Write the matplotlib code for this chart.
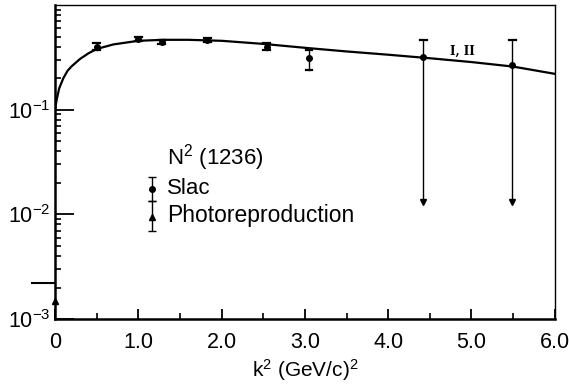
"""Form factor N2(1236) vs k^2, log scale, with Slac and photoproduction data."""

import numpy as np
import matplotlib
matplotlib.use("Agg")
import matplotlib.pyplot as plt
from matplotlib.ticker import FixedLocator, NullFormatter, LogLocator

plt.rcParams["font.family"] = ["Liberation Sans", "DejaVu Sans"]
plt.rcParams["mathtext.fontset"] = "custom"
plt.rcParams["mathtext.rm"] = "Liberation Sans"
plt.rcParams["mathtext.it"] = "Liberation Sans:italic"

# theory curve
curve_k2 = [0, 0.02, 0.05, 0.1, 0.15, 0.2, 0.3, 0.4, 0.5, 0.7, 1.0, 1.3,
            1.6, 2.0, 2.5, 3.0, 3.5, 4.0, 4.5, 5.0, 5.5, 6.0]
curve_val = [0.10, 0.125, 0.16, 0.20, 0.235, 0.26, 0.305, 0.345, 0.38, 0.42,
             0.455, 0.465, 0.465, 0.455, 0.425, 0.39, 0.36, 0.335, 0.31,
             0.285, 0.258, 0.22]

# Slac points
slac_k2 = [0.5, 1.0, 1.28, 1.83, 2.54, 3.05, 4.42, 5.49]
slac_val = [0.40, 0.47, 0.44, 0.46, 0.40, 0.31, 0.32, 0.27]
slac_lo = [0.37, 0.45, 0.42, 0.44, 0.37, 0.24, 0.013, 0.013]
slac_hi = [0.43, 0.49, 0.46, 0.48, 0.43, 0.37, 0.46, 0.46]
upper_limit = [False, False, False, False, False, False, True, True]

# photoproduction point at k^2 = 0
photo_k2 = [0.0]
photo_val = [0.0015]
photo_ref = 0.0022

xticks = [0, 1, 2, 3, 4, 5, 6]
xtick_labels = ["0", "1.0", "2.0", "3.0", "4.0", "5.0", "6.0"]

fig = plt.figure(figsize=(5.69, 3.85), dpi=100)
ax = fig.add_axes([0.0967, 0.1714, 0.8783, 0.8156])
ax.set_yscale("log")
ax.set_xlim(0, 6.0)
ax.set_ylim(1e-3, 1.0)

ax.plot(curve_k2, curve_val, color="black", lw=1.6, zorder=3)

for x, y, lo, hi, lim in zip(slac_k2, slac_val, slac_lo, slac_hi, upper_limit):
    ax.plot([x, x], [lo, hi], color="black", lw=1.0)
    ax.plot([x - 0.04, x + 0.04], [hi, hi], color="black", lw=1.6)
    if lim:
        ax.plot([x], [lo], marker="v", color="black", ms=5)
    else:
        ax.plot([x - 0.04, x + 0.04], [lo, lo], color="black", lw=1.6)
    ax.plot([x], [y], marker="o", color="black", ms=4)

ax.plot(photo_k2, photo_val, marker="^", color="black", ms=4, clip_on=False)
ax.plot([-0.28, 0.0], [photo_ref, photo_ref], color="black", lw=1.5,
        clip_on=False)

ax.text(4.89, 0.36, "I, II", family="DejaVu Serif", fontsize=8.5,
        fontweight="bold", ha="center", va="center")

# legend drawn by hand
ax.text(1.35, 0.035, "N$^2$ (1236)", fontsize=16, va="center")
ax.errorbar([1.16], [0.0175], yerr=[[0.004], [0.005]], fmt="o", color="black",
            ms=4, capsize=3, lw=1.0)
ax.text(1.35, 0.0175, "Slac", fontsize=16, va="center")
ax.errorbar([1.16], [0.0095], yerr=[[0.0025], [0.004]], fmt="^", color="black",
            ms=4, capsize=3, lw=1.0)
ax.text(1.35, 0.0098, "Photoreproduction", fontsize=16.5, va="center")

ax.xaxis.set_major_locator(FixedLocator(xticks))
ax.set_xticklabels(xtick_labels)
ax.xaxis.set_minor_locator(FixedLocator(np.arange(0.5, 6.0, 1.0)))
ax.yaxis.set_major_locator(FixedLocator([1e-3, 1e-2, 1e-1]))
ax.yaxis.set_minor_locator(LogLocator(base=10, subs=np.arange(2, 10)))
ax.yaxis.set_minor_formatter(NullFormatter())
ax.set_yticklabels(["10$^{-3}$", "10$^{-2}$", "10$^{-1}$"])

ax.tick_params(axis="both", which="major", direction="in", labelsize=15.5,
               width=1.3)
ax.tick_params(axis="y", which="major", length=14, pad=3)
ax.tick_params(axis="x", which="major", length=7, pad=9)
ax.tick_params(axis="both", which="minor", direction="in", length=4, width=1.2)
ax.tick_params(top=False, right=False, which="both")

ax.spines["left"].set_linewidth(1.8)
ax.spines["bottom"].set_linewidth(1.8)
ax.spines["top"].set_linewidth(1.0)
ax.spines["right"].set_linewidth(1.0)

ax.set_xlabel("k$^2$ (GeV/c)$^2$", fontsize=15, labelpad=3)

fig.savefig("out.png", dpi=100)
